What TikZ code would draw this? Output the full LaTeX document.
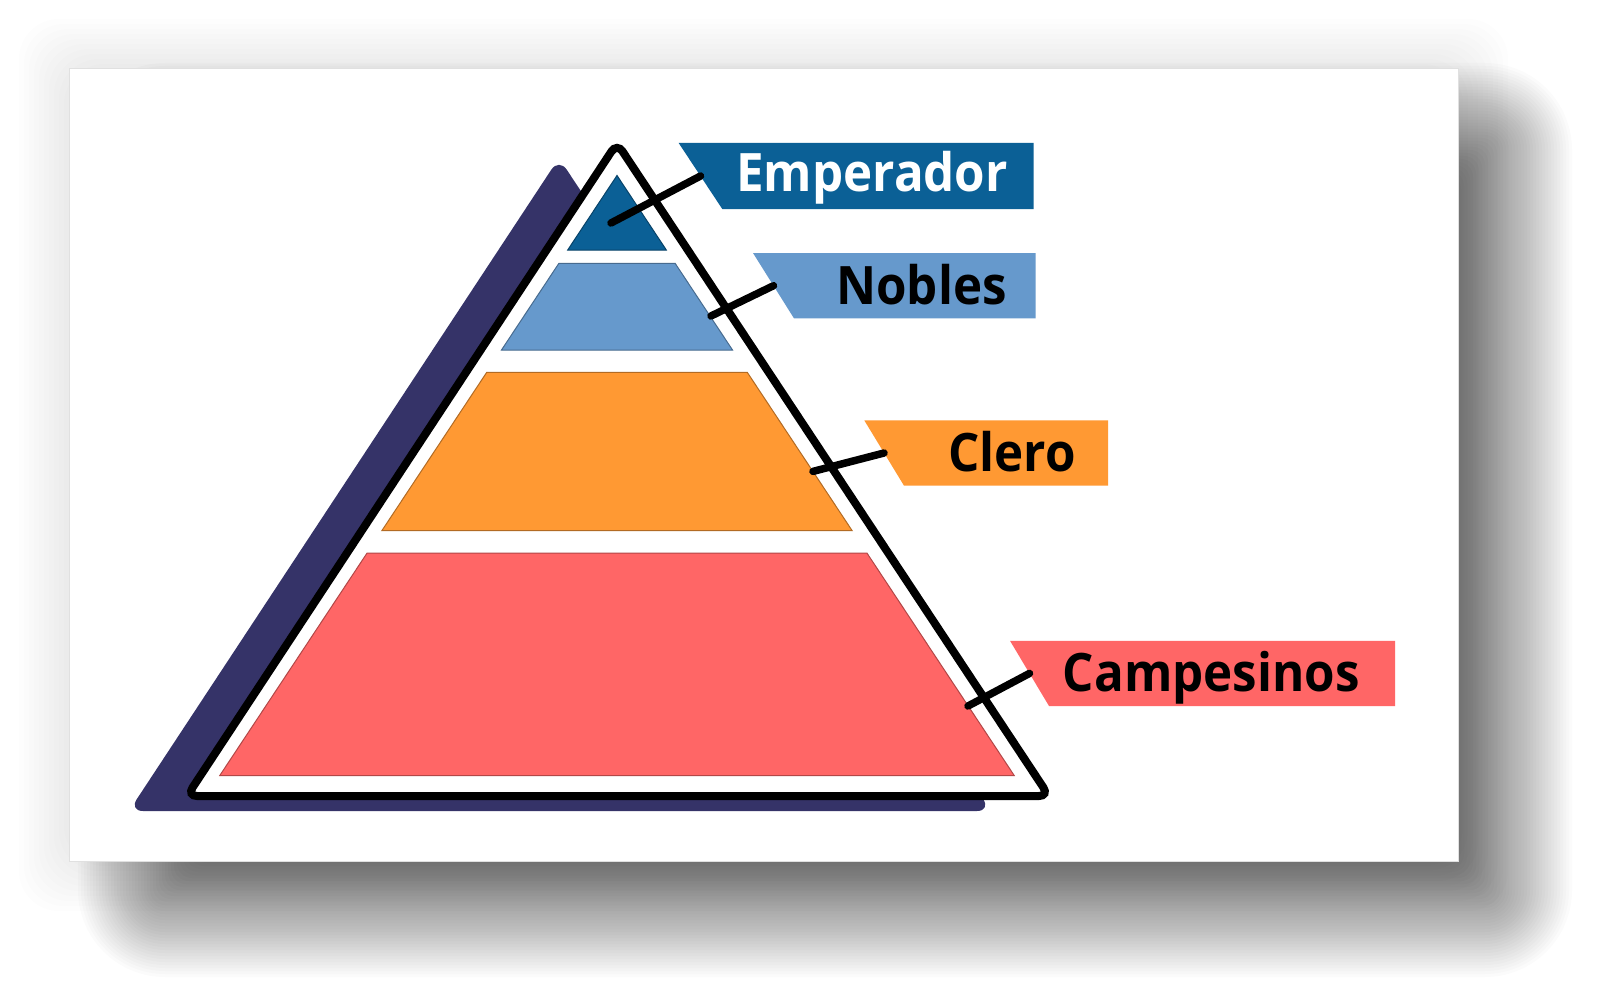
\documentclass[tikz,border=0pt]{standalone}
\usepackage{fontspec}
\setmainfont{Open Sans}
\newfontfamily\lblfont{Open Sans}[FakeStretch=0.93]
\definecolor{navy}{RGB}{53,51,104}
\definecolor{empblue}{RGB}{11,96,150}
\definecolor{nobblue}{RGB}{102,153,204}
\definecolor{cleorange}{RGB}{255,153,51}
\definecolor{camred}{RGB}{255,102,102}
\tikzset{
  layer/.style={line width=1pt, draw=#1!70!black},
  conn/.style={draw=black, line width=7.5pt, line cap=round},
  lbl/.style={font=\lblfont\bfseries\fontsize{53}{60}\selectfont, inner sep=0pt, anchor=base east},
}
\begin{document}
\begin{tikzpicture}[x=1pt,y=-1pt]
\useasboundingbox (0,0) rectangle (1600,1003);
\fill[white] (0,0) rectangle (1600,1003);
% faint halo
\foreach \i in {0,...,10}{
  \pgfmathsetmacro\e{50-5*\i}
  \fill[black, fill opacity=0.006, rounded corners=40pt] (69-\e,69-\e) rectangle (1458+\e,861+\e);
}
% card shadow
\foreach \i in {0,...,46}{
  \pgfmathsetmacro\e{72-3*\i}
  \pgfmathsetmacro\r{max(\e,0)+15}
  \fill[black, fill opacity=0.0145, rounded corners=\r pt] (150-\e,135-\e) rectangle (1500+\e,905+\e);
}
% card
\fill[white] (69,69) rectangle (1458,861);
\draw[black!12, line width=1pt] (69,69) rectangle (1458,861);
% navy offset triangle
\fill[navy, rounded corners=14pt] (559,158) -- (129,811) -- (991,811) -- cycle;
% main triangle
\draw[line width=8pt, fill=white, rounded corners=10pt] (617,143) -- (187,796) -- (1049,796) -- cycle;
% layers
\filldraw[fill=empblue, layer=empblue] (617,175.5) -- (567.7,250) -- (666.3,250) -- cycle;
\filldraw[fill=nobblue, layer=nobblue] (558.9,263.3) -- (501.5,350) -- (732.5,350) -- (675.1,263.3) -- cycle;
\filldraw[fill=cleorange, layer=cleorange] (486.7,372.4) -- (381.9,530.6) -- (852.1,530.6) -- (747.3,372.4) -- cycle;
\filldraw[fill=camred, layer=camred] (367.1,553) -- (219.8,775.5) -- (1014.2,775.5) -- (866.9,553) -- cycle;
% label boxes
\fill[empblue] (678.6,142.9) -- (722.4,209.2) -- (1033.7,209.2) -- (1033.7,142.9) -- cycle;
\fill[nobblue] (753,253) -- (794,318.4) -- (1035.7,318.4) -- (1035.7,253) -- cycle;
\fill[cleorange] (864.3,420.4) -- (904,485.7) -- (1108,485.7) -- (1108,420.4) -- cycle;
\fill[camred] (1010,640.8) -- (1049,706) -- (1395,706) -- (1395,640.8) -- cycle;
% connector coordinates
\coordinate (empIn) at (611,223);
\coordinate (empBox) at (700.5,176);
\coordinate (nobIn) at (711,316);
\coordinate (nobBox) at (773.5,285.7);
\coordinate (cleIn) at (813,471.4);
\coordinate (cleBox) at (884,453);
\coordinate (camIn) at (968,706);
\coordinate (camBox) at (1029.5,673.4);
\draw[conn] (empIn) -- (empBox);
\draw[conn] (nobIn) -- (nobBox);
\draw[conn] (cleIn) -- (cleBox);
\draw[conn] (camIn) -- (camBox);
% texts
\node[lbl, text=white] (tEmp) at (1008,192) {Emperador};
\node[lbl, text=black] (tNob) at (1007,304) {Nobles};
\node[lbl, text=black] (tCle) at (1076,471) {Clero};
\node[lbl, text=black] (tCam) at (1360,691) {Campesinos};
\end{tikzpicture}
\end{document}
